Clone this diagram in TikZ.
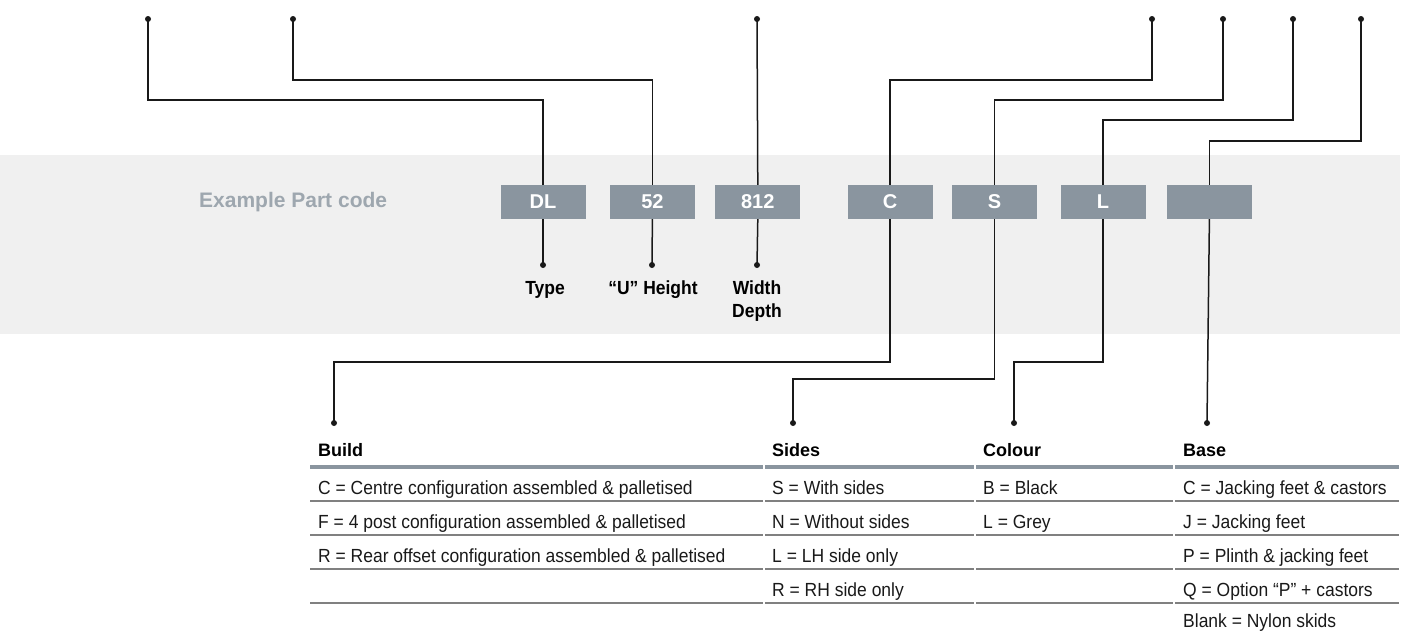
\documentclass[tikz,border=0pt]{standalone}
\usepackage{fontspec}
\setmainfont{Liberation Sans}
\newfontfamily\narrowfont{Liberation Sans}[FakeStretch=0.92]
\usepackage{tikz}
\usetikzlibrary{positioning}
\definecolor{codegray}{HTML}{8A959F}
\definecolor{bandgray}{HTML}{F0F0F0}
\definecolor{titlegray}{HTML}{9EA7AF}
\definecolor{rulegray}{HTML}{808080}
\tikzstyle{codebox} = [fill=codegray, minimum width=85pt, minimum height=34pt, inner sep=0pt, text=white, font=\fontsize{20}{24}\selectfont\bfseries]
\tikzstyle{lead} = [line width=1.5pt, black!90]
\tikzstyle{partlabel} = [anchor=base, inner sep=0pt, font=\narrowfont\fontsize{19}{23}\selectfont\bfseries]
\tikzstyle{head} = [anchor=base west, inner sep=0pt, font=\fontsize{18}{22}\selectfont\bfseries]
\tikzstyle{entry} = [anchor=base west, inner sep=0pt, text=black!90, font=\narrowfont\fontsize{19}{23}\selectfont]
\tikzstyle{thinrule} = [line width=1.5pt, rulegray]
\tikzstyle{thickrule} = [line width=3.5pt, codegray]

\begin{document}
\begin{tikzpicture}[x=1pt, y=-1pt]
\useasboundingbox (0,0) rectangle (1405,630);
\fill[bandgray] (0,155) rectangle (1400,334);

% part code
\node[anchor=west, inner sep=0pt, text=titlegray, font=\fontsize{21}{25}\selectfont\bfseries] (title) at (199,202) {Example Part code};
\node[codebox] (dl) at (543,202) {DL};
\node[codebox, right=24pt of dl] (u52) {52};
\node[codebox, right=20pt of u52] (w812) {812};
\node[codebox, right=47pt of w812] (bc) {C};
\node[codebox, right=19pt of bc] (sc) {S};
\node[codebox, right=23pt of sc] (cc) {L};
\node[codebox, right=21pt of cc] (fc) {};

% dots
\coordinate (t1) at (148,19);
\coordinate (t2) at (293,19);
\coordinate (t3) at (757,19);
\coordinate (t4) at (1152,19);
\coordinate (t5) at (1223,19);
\coordinate (t6) at (1293,19);
\coordinate (t7) at (1361,19);
\coordinate (d1) at (543,265);
\coordinate (d2) at (652,265);
\coordinate (d3) at (757,265);
\coordinate (b1) at (334,423);
\coordinate (b2) at (793,423);
\coordinate (b3) at (1014,423);
\coordinate (b4) at (1207,423);
\foreach \p in {t1,t2,t3,t4,t5,t6,t7,d1,d2,d3,b1,b2,b3,b4}
  \fill[black!90] (\p) circle (3);

% leads to the top
\draw[lead] (t1) -- (t1 |- 0,100) -| (dl.north);
\draw[lead] (t2) -- (t2 |- 0,80) -| (u52.north);
\draw[lead] (t3) -- (w812.north);
\draw[lead] (t4) -- (t4 |- 0,80) -| (bc.north);
\draw[lead] (t5) -- (t5 |- 0,100) -| (sc.north);
\draw[lead] (t6) -- (t6 |- 0,120) -| (cc.north);
\draw[lead] (t7) -- (t7 |- 0,141) -| (fc.north);

% leads down
\draw[lead] (dl.south) -- (d1);
\draw[lead] (u52.south) -- (d2);
\draw[lead] (w812.south) -- (d3);
\draw[lead] (bc.south) -- (bc.south |- 0,362) -| (b1);
\draw[lead] (sc.south) -- (sc.south |- 0,379) -| (b2);
\draw[lead] (cc.south) -- (cc.south |- 0,362) -| (b3);
\draw[lead] (fc.south) -- (b4);

\node[partlabel] (type) at (545,294) {Type};
\node[partlabel] (height) at (653,294) {“U” Height};
\node[partlabel] (width) at (757,294) {Width};
\node[partlabel] (depth) at (757,317) {Depth};

% table
\node[head] (build) at (318,456) {Build};
\node[head] (sides) at (772,456) {Sides};
\node[head] (colour) at (983,456) {Colour};
\node[head] (base) at (1183,456) {Base};
\draw[thickrule] (310,467) -- (763,467);
\draw[thickrule] (765,467) -- (974,467);
\draw[thickrule] (976,467) -- (1173,467);
\draw[thickrule] (1175,467) -- (1399,467);
\foreach \y in {501,535,569,603} {
  \draw[thinrule] (310,\y) -- (763,\y);
  \draw[thinrule] (765,\y) -- (974,\y);
  \draw[thinrule] (976,\y) -- (1173,\y);
  \draw[thinrule] (1175,\y) -- (1399,\y);
}
\foreach \t [count=\i] in {C = Centre configuration assembled \& palletised, F = 4 post configuration assembled \& palletised, R = Rear offset configuration assembled \& palletised}
  \node[entry] (build\i) at (318,460+34*\i) {\t};
\foreach \t [count=\i] in {S = With sides, N = Without sides, L = LH side only, R = RH side only}
  \node[entry] (sides\i) at (772,460+34*\i) {\t};
\foreach \t [count=\i] in {B = Black, L = Grey}
  \node[entry] (colour\i) at (983,460+34*\i) {\t};
\foreach \t [count=\i, evaluate=\i as \y using {min(460+34*\i,627)}] in {C = Jacking feet \& castors, J = Jacking feet, P = Plinth \& jacking feet, Q = Option “P” + castors, Blank = Nylon skids}
  \node[entry] (base\i) at (1183,\y) {\t};
\end{tikzpicture}
\end{document}
